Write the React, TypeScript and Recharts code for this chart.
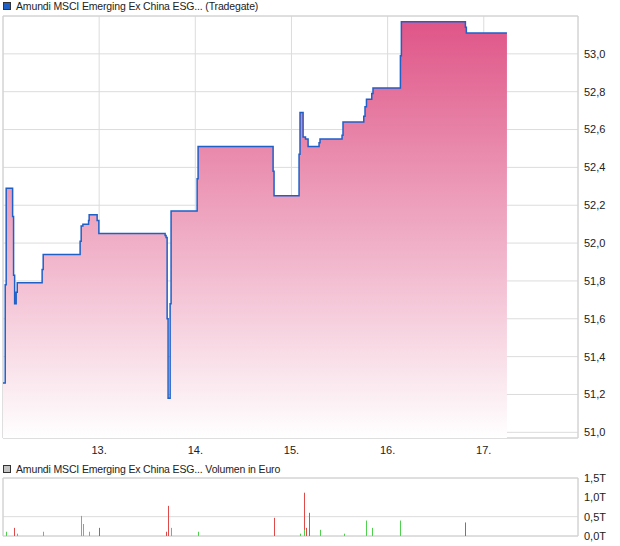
import {
  ComposedChart,
  Area,
  Bar,
  Cell,
  XAxis,
  YAxis,
  CartesianGrid,
  ReferenceArea,
} from 'recharts'

// price steps (day of month, fractional) -> price in EUR
const priceDays = [
  12.0, 12.023, 12.033, 12.1, 12.11, 12.121, 12.137, 12.148, 12.407, 12.418,
  12.802, 12.813, 12.831, 12.89, 12.896, 12.979, 12.997, 13.686, 13.696, 13.707,
  13.717, 13.738, 13.748, 14.019, 14.029, 14.809, 14.819, 15.079, 15.089, 15.121,
  15.146, 15.173, 15.287, 15.297, 15.526, 15.536, 15.752, 15.765, 15.78, 15.835,
  15.848, 16.133, 16.143, 16.809, 16.819, 17.241,
]
const priceValues = [
  51.26, 51.78, 52.29, 52.14, 51.83, 51.68, 51.74, 51.79, 51.86, 51.94,
  52.01, 52.09, 52.1, 52.12, 52.15, 52.12, 52.05, 52.04, 52.03, 51.6,
  51.18, 51.68, 52.17, 52.34, 52.51, 52.38, 52.25, 52.47, 52.69, 52.56,
  52.55, 52.51, 52.53, 52.55, 52.57, 52.64, 52.67, 52.72, 52.76, 52.79,
  52.82, 52.99, 53.17, 53.14, 53.11, 53.11,
]

// volume trades
const volumeDays = [
  12.033, 12.116, 12.148, 12.418, 12.817, 12.834, 12.896, 13.0, 13.696, 13.717,
  13.748, 14.029, 14.819, 15.09, 15.131, 15.141, 15.152, 15.183, 15.301, 15.547,
  15.78, 15.848, 16.139, 16.815,
]
const volumeValues = [
  110, 210, 60, 110, 520, 310, 110, 210, 110, 780,
  210, 110, 470, 60, 1120, 160, 210, 600, 160, 60,
  400, 210, 400, 350,
]
const volumeUp = [
  true, false, true, true, true, true, true, false, false, false,
  true, true, false, true, false, true, false, false, true, true,
  true, true, true, false,
]

const dayTicks = [13, 14, 15, 16, 17]
const priceTicks = [51.0, 51.2, 51.4, 51.6, 51.8, 52.0, 52.2, 52.4, 52.6, 52.8, 53.0]
const volumeTicks = [0, 500, 1000, 1500]

const dayMin = 12.0
const dayMax = 17.98
const priceMin = 50.97
const priceMax = 53.2
const volumeMax = 1500

const priceData = priceDays.map((d, i) => ({ day: d, price: priceValues[i] }))
const volumeData = volumeDays.map((d, i) => ({
  day: d,
  volume: volumeValues[i],
  up: volumeUp[i],
}))

const FONT = '"Liberation Sans", Arial, sans-serif'
const GRID = '#dcdcdc'
const tickStyle = { fontSize: 11, fill: '#222', fontFamily: FONT }

const fmtPrice = (v: number) => v.toFixed(1).replace('.', ',')
const fmtVolume = (v: number) => (v / 1000).toFixed(1).replace('.', ',') + 'T'
const fmtDay = (v: number) => `${v}.`

// thin 1px volume stick centred on the bar slot recharts computes
function VolumeStick(props: any) {
  const { x, y, width, height, fill } = props
  if (!height || height <= 0) return null
  const cx = Math.round(x + width / 2 - 0.5)
  return <rect x={cx} y={y} width={1} height={height} fill={fill} />
}

function LegendRow({ top, color, label }: { top: number; color: string; label: string }) {
  return (
    <div
      style={{
        position: 'absolute',
        left: 3,
        top,
        display: 'flex',
        alignItems: 'center',
        fontFamily: FONT,
        fontSize: 10.5,
        letterSpacing: -0.15,
        color: '#222',
        whiteSpace: 'nowrap',
      }}
    >
      <span
        style={{
          display: 'inline-block',
          width: 6,
          height: 6,
          background: color,
          border: '1px solid #333',
          marginRight: 5,
        }}
      />
      {label}
    </div>
  )
}

export default function App() {
  return (
    <div style={{ position: 'absolute', left: 0, top: 0, width: 620, height: 546, background: '#fff' }}>
      <LegendRow top={0} color="#1f5fc8" label="Amundi MSCI Emerging Ex China ESG... (Tradegate)" />
      <ComposedChart
        width={620}
        height={460}
        data={priceData}
        margin={{ top: 16, right: 0, bottom: 0, left: 3 }}
      >
        <defs>
          <linearGradient id="priceFill" x1="0" y1="0" x2="0" y2="1">
            <stop offset="0%" stopColor="#df5587" />
            <stop offset="100%" stopColor="#ffffff" />
          </linearGradient>
        </defs>
        <CartesianGrid stroke={GRID} />
        <XAxis
          dataKey="day"
          type="number"
          domain={[dayMin, dayMax]}
          ticks={dayTicks}
          tickFormatter={fmtDay}
          axisLine={false}
          tickLine={false}
          tick={tickStyle}
          height={22}
          allowDataOverflow
        />
        <YAxis
          orientation="right"
          type="number"
          domain={[priceMin, priceMax]}
          ticks={priceTicks}
          tickFormatter={fmtPrice}
          axisLine={false}
          tickLine={false}
          tickSize={5}
          tickMargin={1}
          tick={{ ...tickStyle, textAnchor: 'start' }}
          width={42}
          allowDataOverflow
        />
        <ReferenceArea
          x1={dayMin}
          x2={dayMax}
          y1={priceMin}
          y2={priceMax}
          fill="none"
          stroke="#d0d0d0"
          ifOverflow="visible"
        />
        <Area
          type="stepAfter"
          dataKey="price"
          stroke="#1f5fc8"
          strokeWidth={1.5}
          fill="url(#priceFill)"
          fillOpacity={1}
          isAnimationActive={false}
          dot={false}
          activeDot={false}
        />
      </ComposedChart>

      <LegendRow top={463} color="#c4c4c4" label="Amundi MSCI Emerging Ex China ESG... Volumen in Euro" />
      <div style={{ position: 'absolute', left: 0, top: 470 }}>
        <ComposedChart
          width={620}
          height={76}
          data={volumeData}
          margin={{ top: 8, right: 0, bottom: 10, left: 3 }}
        >
          <CartesianGrid stroke={GRID} />
          <XAxis
            dataKey="day"
            type="number"
            domain={[dayMin, dayMax]}
            ticks={dayTicks}
            axisLine={false}
            tickLine={false}
            tick={false}
            height={0}
            allowDataOverflow
          />
          <YAxis
            orientation="right"
            type="number"
            domain={[0, volumeMax]}
            ticks={volumeTicks}
            tickFormatter={fmtVolume}
            axisLine={false}
            tickLine={false}
            tickSize={5}
            tickMargin={1}
            tick={{ ...tickStyle, textAnchor: 'start' }}
            width={42}
          />
          <ReferenceArea
            x1={dayMin}
            x2={dayMax}
            y1={0}
            y2={volumeMax}
            fill="none"
            stroke="#d0d0d0"
            ifOverflow="visible"
          />
          <Bar dataKey="volume" barSize={2} shape={VolumeStick} isAnimationActive={false}>
            {volumeData.map((v, i) => (
              <Cell key={i} fill={v.up ? '#4fd04f' : '#de4a4a'} />
            ))}
          </Bar>
        </ComposedChart>
      </div>
    </div>
  )
}
